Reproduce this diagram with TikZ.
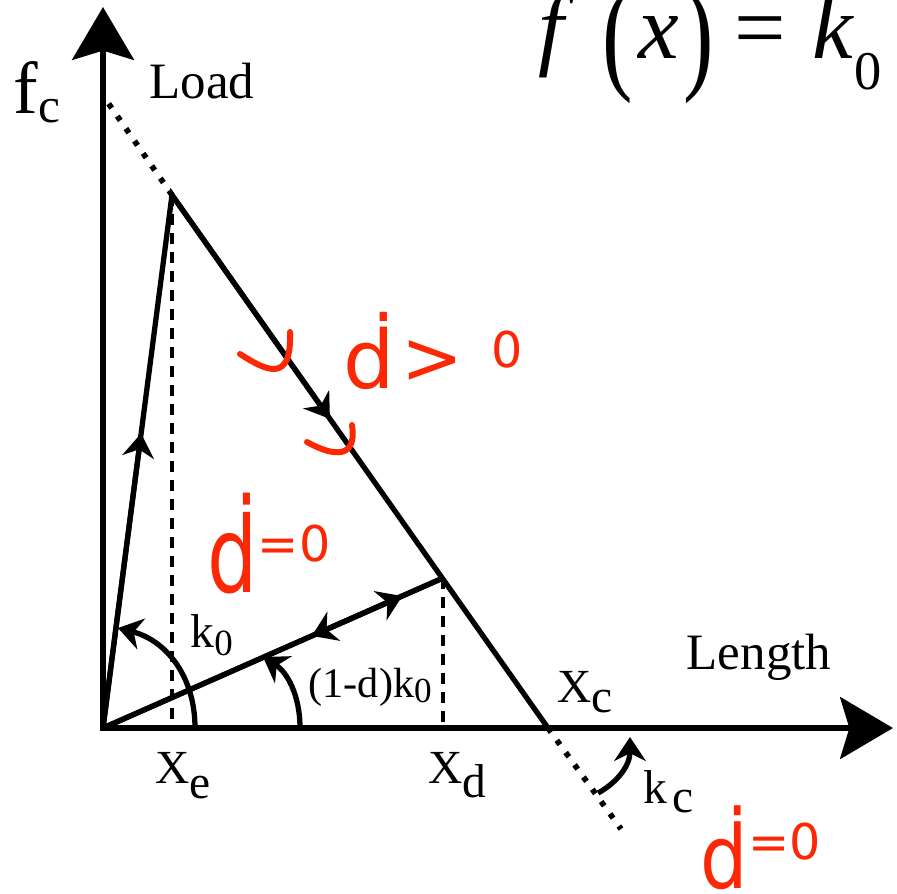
\documentclass[tikz,border=0pt]{standalone}
\usepackage{fontspec}
\setmainfont{Liberation Serif}
\newfontfamily\handfont{DejaVu Sans}
\usepackage{graphicx}
\usepackage{tikz}
\usetikzlibrary{calc, arrows.meta}
\definecolor{inkRed}{RGB}{252, 40, 5}
\newcommand{\lowtxt}[2][3pt]{\raisebox{-#1}{#2}}
\newcommand{\fsz}[1]{\fontsize{#1}{#1}\selectfont}

\begin{document}
\begin{tikzpicture}[
    x=0.01cm, y=-0.01cm,
    axis/.style={line width=1.9pt, miter limit=10,
      {Stealth[length=15pt, width=17.5pt, inset=2.6pt]}-{Stealth[length=15pt, width=17.5pt, inset=2.6pt]}},
    branch/.style={line width=1.5pt},
    guide/.style={line width=0.9pt, dash pattern=on 3.1pt off 2.3pt},
    dotline/.style={line width=1.6pt, dash pattern=on 1.5pt off 2.8pt},
    tip/.style={line width=1.5pt, -{Stealth[length=6.8pt, width=9pt, inset=2.2pt]}},
    lbl/.style={font=\fsz{13.5}, inner sep=0pt, anchor=base west},
    hand/.style={inkRed, font=\handfont, inner sep=0pt, anchor=base west},
    scribble/.style={inkRed, line width=1.7pt, line cap=round},
  ]
    \useasboundingbox (0,0) rectangle (897,893);
    \coordinate (O) at (103,728);
    \coordinate (P) at (172,195);
    \coordinate (U) at (443,578);
    \coordinate (Xc) at (548,728);
    \coordinate (ytop) at (103,7);
    \coordinate (xend) at (893,728);
    \coordinate (dtop) at (104,97);
    \coordinate (dbot) at (621,829);
    % axes
    \draw[axis] (ytop) -- (O) -- (xend);
    \node[inner sep=0pt, anchor=base west, font=\fsz{21}] (flabel) at (13,113) {f\lowtxt[2.6pt]{\fsz{14}c}};
    \node[lbl, font=\fsz{14.5}] (loadlabel) at (149,98) {Load};
    \node[lbl, font=\fsz{14.5}] (lenlabel) at (686,669) {Length};
    % loading, softening and unloading branches
    \draw[branch] (O) -- (P) -- (Xc);
    \draw[branch] (O) -- (U);
    \draw[dotline] (P) -- (dtop);
    \draw[dotline] (Xc) -- (dbot);
    \draw[tip] (O) -- ($(O)!0.553!(P)$);
    \draw[tip] (P) -- ($(P)!0.42!(Xc)$);
    \draw[tip] (O) -- ($(O)!0.88!(U)$);
    \draw[tip] (U) -- ($(U)!0.386!(O)$);
    % guides down to the axis
    \draw[guide] (P) -- (P |- O);
    \draw[guide] (U) -- (U |- O);
    \node[lbl] (xelabel) at (155,783) {X\lowtxt[4.3pt]{e}};
    \node[lbl] (xdlabel) at (428,783) {X\lowtxt[4pt]{d}};
    \node[lbl] (xclabel) at (557,702) {X\lowtxt[3pt]{c}};
    % stiffness arcs
    \draw[tip] (195,728) .. controls (195,675) and (165,640) .. (118,628);
    \draw[tip] (300,728) .. controls (300,695) and (287,672) .. (263,657);
    \draw[tip] (598,793) .. controls (618,782) and (630,765) .. (630,737);
    \node[lbl] (kzero) at (190,647) {k\lowtxt[2.3pt]{\fsz{10.5}0}};
    \node[lbl, font=\fsz{12}] (kdamage) at (308,697) {(1-d)k\lowtxt[1.5pt]{\fsz{10}0}};
    \node[lbl] (kclabel) at (643,803) {k\hspace{1.5pt}\lowtxt[2.8pt]{c}};
    % law
    \node[inner sep=0pt, anchor=base west, font=\fsz{26}] (formula) at (538,58)
      {\textit{f}\hspace{8pt}\raisebox{-0.2em}{\scalebox{1}[1.4]{(}}\hspace{1.5pt}\textit{x}\hspace{1.2pt}\raisebox{-0.2em}{\scalebox{1}[1.4]{)}}\hspace{6pt}=\hspace{7.5pt}\textit{k}\lowtxt[9pt]{\fsz{15.5}0}};
    % hand notes
    \draw[scribble] (240,354) .. controls (265,370) and (292,385) .. (290,332);
    \draw[scribble] (307,442) .. controls (325,452) and (358,465) .. (352,425);
    \node[hand] (dgrow) at (343,388) {{\fsz{23}ḋ}\hspace{1.7pt}\raisebox{1.4pt}{\fsz{21}>}\hspace{8pt}\raisebox{5.7pt}{\fsz{14}0}};
    \node[hand] (dstill) at (207,592) {\scalebox{0.75}[1]{\fsz{30}ḋ}\raisebox{8.8pt}{\fsz{14}=0}};
    \node[hand] (dend) at (700,888) {\scalebox{0.85}[1]{\fsz{25}ḋ}\raisebox{8pt}{\fsz{14}=0}};
  \end{tikzpicture}
\end{document}
